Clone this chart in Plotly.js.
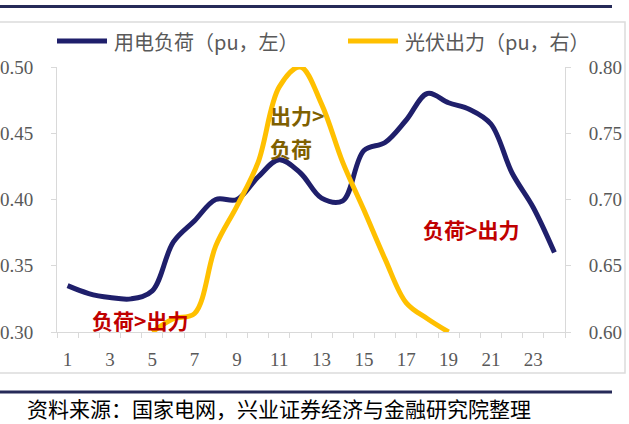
<!DOCTYPE html>
<html>
<head>
<meta charset="utf-8">
<script src="https://cdn.plot.ly/plotly-3.0.1.min.js"></script>
<style>
html,body{margin:0;padding:0;background:#fff;}
#chart{width:629px;height:424px;}
</style>
</head>
<body>
<div id="chart"></div>
<script>
// ---- data ----
const hours = [1,2,3,4,5,6,7,8,9,10,11,12,13,14,15,16,17,18,19,20,21,22,23,24];
const loadPU = [0.335,0.329,0.326,0.325,0.331,0.368,0.384,0.400,0.400,0.417,0.430,0.420,0.401,0.399,0.437,0.443,0.460,0.480,0.473,0.468,0.457,0.420,0.394,0.360];
const pvHours = [5,6,7,8,9,10,11,12,13,14,15,16,17,18,19];
const pvPU = [0.600,0.610,0.614,0.665,0.695,0.728,0.785,0.800,0.772,0.728,0.692,0.655,0.622,0.610,0.600];
const xTickVals = [1,3,5,7,9,11,13,15,17,19,21,23];
const xTickText = ['1','3','5','7','9','11','13','15','17','19','21','23'];
const seriesNames = ['用电负荷（pu，左）','光伏出力（pu，右）'];
const sourceText = '资料来源：国家电网，兴业证券经济与金融研究院整理';

// ---- layout helpers (pixel -> paper) ----
const L = 57, R = 565, T = 67, B = 332, W = 629, H = 424;
const px = v => (v - L) / (R - L);
const py = v => (B - v) / (B - T);

const cjk = '"Noto Sans CJK SC", "Noto Sans", sans-serif';
const serif = '"Liberation Serif", "DejaVu Serif", serif';
const navy = '#1F1F6B';
const gold = '#FFC000';
const axisGrey = '#D9D9D9';
const colors = [navy, gold];

const traces = [
  {x: hours, y: loadPU, name: seriesNames[0], type: 'scatter', mode: 'lines',
   line: {color: navy, width: 5, shape: 'spline', smoothing: 1}, yaxis: 'y'},
  {x: pvHours, y: pvPU, name: seriesNames[1], type: 'scatter', mode: 'lines',
   line: {color: gold, width: 5, shape: 'spline', smoothing: 1}, yaxis: 'y2'}
];

const yCommon = {
  showgrid: false, zeroline: false, showline: true, linecolor: axisGrey, linewidth: 1,
  ticks: 'outside', ticklen: 5, tickcolor: axisGrey, dtick: 0.05, tickformat: '.2f',
  tickfont: {family: serif, size: 19, color: '#595959'}, ticklabelstandoff: 14, fixedrange: true
};

// custom legend (line sample + text) positioned like the reference
const legendPos = [{x0: 57, x1: 107, tx: 112}, {x0: 348, x1: 398, tx: 403}];
const legendShapes = seriesNames.map((n, i) => ({
  type: 'line', xref: 'paper', yref: 'paper', x0: px(legendPos[i].x0), x1: px(legendPos[i].x1),
  y0: py(41), y1: py(41), line: {color: colors[i], width: 5}
}));
const legendTexts = seriesNames.map((n, i) => ({
  xref: 'paper', yref: 'paper', x: px(legendPos[i].tx), y: py(41), xanchor: 'left', yanchor: 'middle',
  showarrow: false, text: n, font: {family: cjk, size: 20, color: '#595959'}
}));

const layout = {
  width: W, height: H,
  margin: {l: L, r: W - R, t: T, b: H - B, pad: 0},
  paper_bgcolor: '#fff', plot_bgcolor: '#fff',
  showlegend: false,
  xaxis: {
    type: 'linear', range: [0.5, 24.5], showgrid: false, zeroline: false,
    showline: true, linecolor: axisGrey, linewidth: 1,
    tickmode: 'array', tickvals: xTickVals, ticktext: xTickText, ticks: '',
    tickfont: {family: serif, size: 19, color: '#595959'}, ticklabelstandoff: 10,
    minor: {ticks: 'outside', tickmode: 'linear', tick0: 0.5, dtick: 1, ticklen: 5, tickcolor: axisGrey, showgrid: false},
    fixedrange: true
  },
  yaxis: Object.assign({}, yCommon, {range: [0.30, 0.50], side: 'left'}),
  yaxis2: Object.assign({}, yCommon, {range: [0.60, 0.80], side: 'right', overlaying: 'y'}),
  shapes: [
    {type: 'line', xref: 'paper', yref: 'paper', x0: px(0), x1: px(612), y0: py(6.5), y1: py(6.5), line: {color: '#262A58', width: 3}},
    {type: 'rect', xref: 'paper', yref: 'paper', x0: px(-2), x1: px(625), y0: py(373), y1: py(22), line: {color: '#DCDCDC', width: 1.5}},
    {type: 'line', xref: 'paper', yref: 'paper', x0: px(0), x1: px(612), y0: py(392), y1: py(392), line: {color: '#262A58', width: 3}}
  ].concat(legendShapes),
  annotations: [
    {xref: 'paper', yref: 'paper', x: px(268), y: py(115), xanchor: 'left', yanchor: 'middle', showarrow: false,
     text: '<b>出力&gt;</b>', font: {family: cjk, size: 21, color: '#7F6000'}},
    {xref: 'paper', yref: 'paper', x: px(268), y: py(148), xanchor: 'left', yanchor: 'middle', showarrow: false,
     text: '<b>负荷</b>', font: {family: cjk, size: 21, color: '#7F6000'}},
    {xref: 'paper', yref: 'paper', x: px(471), y: py(229), xanchor: 'center', yanchor: 'middle', showarrow: false,
     text: '<b>负荷&gt;出力</b>', font: {family: cjk, size: 21, color: '#C00000'}},
    {xref: 'paper', yref: 'paper', x: px(140), y: py(320), xanchor: 'center', yanchor: 'middle', showarrow: false,
     text: '<b>负荷&gt;出力</b>', font: {family: cjk, size: 21, color: '#C00000'}},
    {xref: 'paper', yref: 'paper', x: px(26), y: py(408), xanchor: 'left', yanchor: 'middle', showarrow: false,
     borderpad: 0, text: sourceText, font: {family: cjk, size: 21, color: '#000'}}
  ].concat(legendTexts)
};

Plotly.newPlot('chart', traces, layout, {displayModeBar: false, staticPlot: true});
</script>
</body>
</html>
